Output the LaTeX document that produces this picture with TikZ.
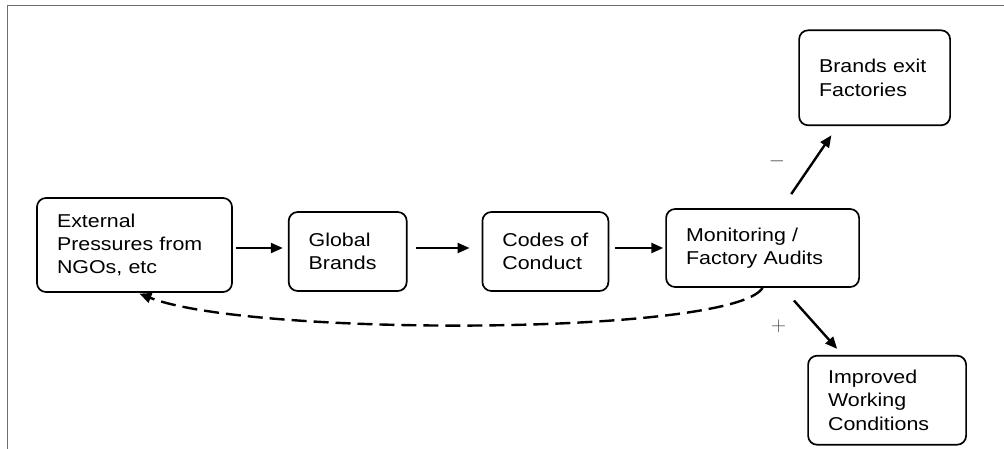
\documentclass[tikz,border=0pt]{standalone}
\usepackage{fontspec}
\setmainfont{Liberation Sans}[FakeStretch=1.15]
\usetikzlibrary{arrows.meta,positioning}
\definecolor{framegray}{RGB}{110,110,110}
\tikzset{
  box/.style={rectangle, rounded corners=9pt, draw=black, line width=1.7pt,
    align=left, inner xsep=20pt, inner ysep=4pt,
    font=\fontsize{18.6}{23.3}\selectfont},
  arr/.style={-{Triangle[length=12pt,width=10pt]}, line width=2.4pt},
  fb/.style={arr, dash pattern=on 15pt off 7pt},
  sign/.style={font=\fontsize{20}{24}\selectfont, text=black!70},
}
\begin{document}
\begin{tikzpicture}[x=1pt,y=-1pt,node distance=55pt]
    \useasboundingbox (0,0) rectangle (1004,448);
    \draw[framegray, line width=1.3pt] (7.5,5.5) rectangle (1030,470);
    \node[box, text width=155pt, minimum height=94pt](ext) at (134.5,245){External\\Pressures from\\NGOs, etc};
    \node[box, text width=78pt, minimum height=79pt, right=55pt of ext, yshift=-6.5pt](glob){Global\\Brands};
    \node[box, text width=86pt, minimum height=79pt, right=74pt of glob](codes){Codes of\\Conduct};
    \node[box, text width=153pt, minimum height=78pt, right=56pt of codes, yshift=3.5pt](mon){Monitoring /\\Factory Audits};
    \node[box, text width=111pt, minimum height=95pt, above=82pt of mon, xshift=112pt](exit){Brands exit\\Factories};
    \node[box, text width=118pt, minimum height=89pt, below=67pt of mon, xshift=124.5pt](imp){Improved\\Working\\Conditions};
    \draw[arr, shorten <=3pt, shorten >=5pt](ext.east|-mon.west)--(glob.west|-mon.west);
    \draw[arr, shorten <=8pt, shorten >=12pt](glob.east|-mon.west)--(codes.west|-mon.west);
    \draw[arr, shorten <=6pt, shorten >=2pt](codes.east|-mon.west)--(mon.west);
    \draw[arr, shorten <=17pt, shorten >=11pt]([xshift=19pt]mon.north)--([xshift=-37pt]exit.south)
      node[sign, midway, left=20pt, yshift=6pt]{$-$};
    \draw[arr, shorten <=17pt, shorten >=8pt]([xshift=20pt]mon.south)--([xshift=-44.6pt]imp.north)
      node[sign, midway, left=22pt, yshift=-5pt]{$+$};
    \draw[fb, shorten >=2pt](mon.south) .. controls +(-30,48) and +(112,44) .. ([xshift=3pt]ext.south);
  \end{tikzpicture}
\end{document}
